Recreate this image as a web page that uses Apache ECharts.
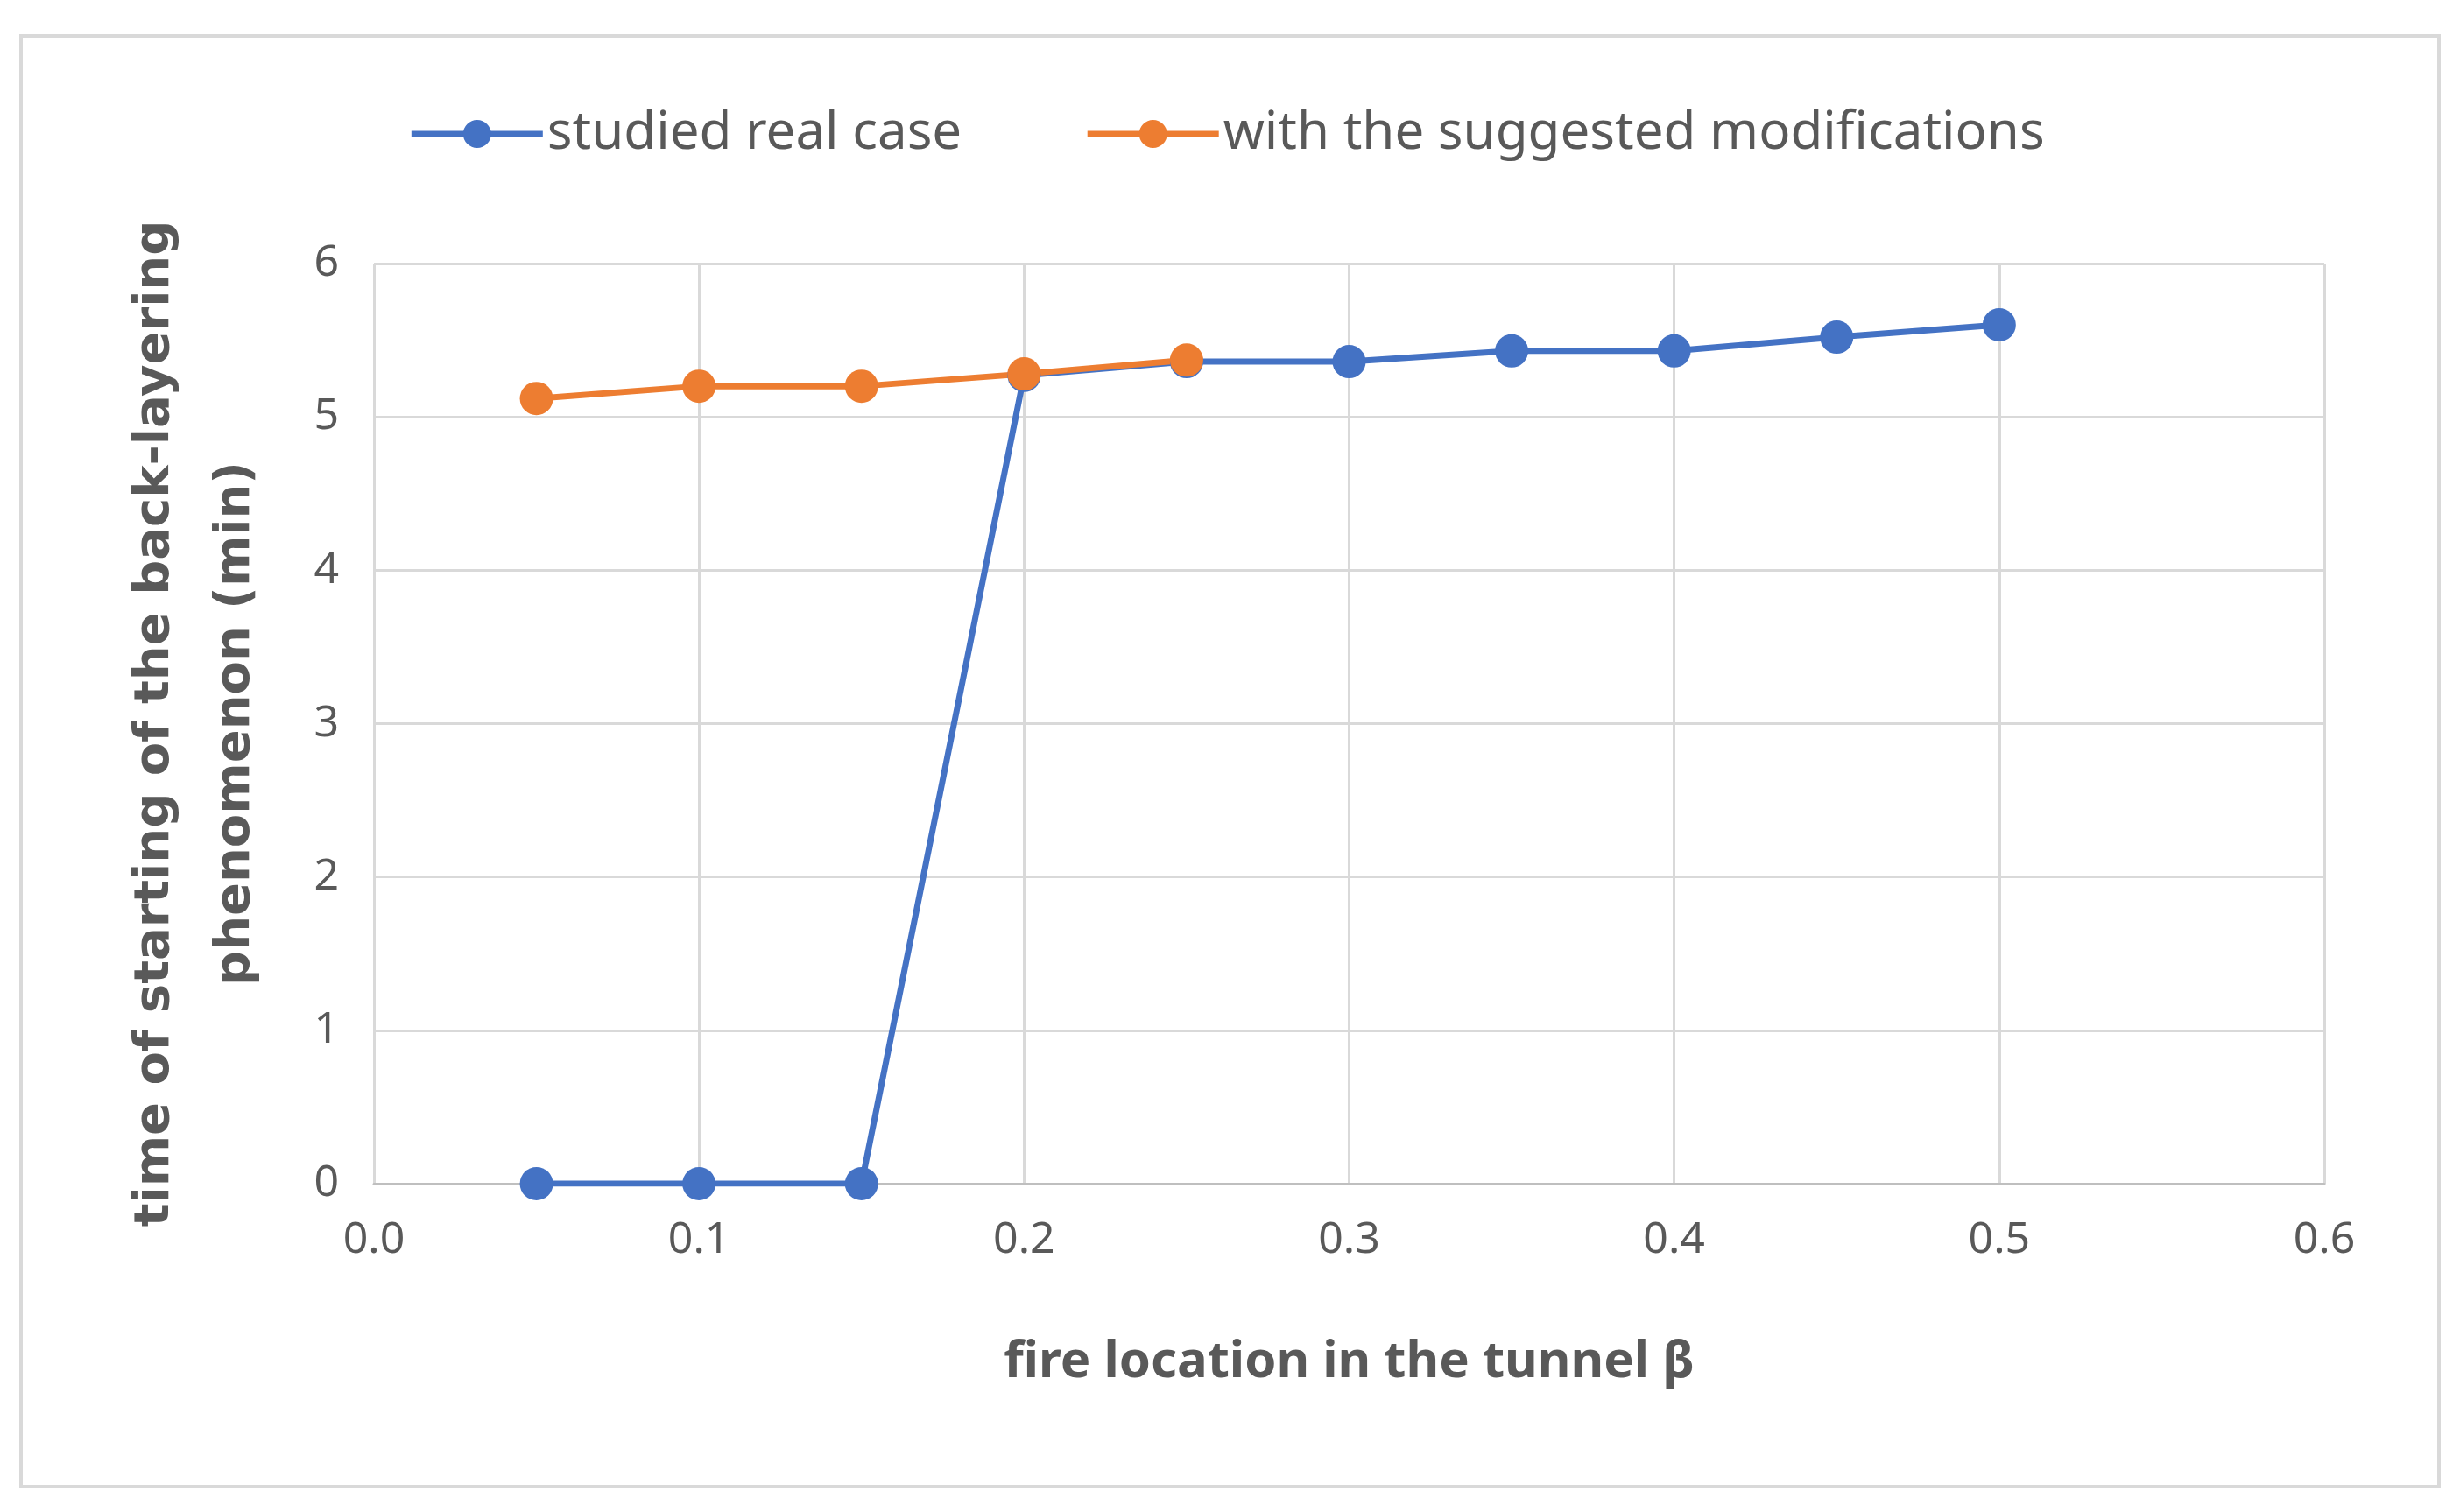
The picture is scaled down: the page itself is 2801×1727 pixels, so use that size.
<!DOCTYPE html>
<html>
<head>
<meta charset="utf-8">
<script src="https://cdn.jsdelivr.net/npm/echarts@6/dist/echarts.min.js"></script>
<style>
  html, body { margin: 0; padding: 0; background: #fff; }
  #frame { position: absolute; left: 22px; top: 39px; width: 2757px; height: 1653px; border: 4px solid #d9d9d9; }
  #chart { position: absolute; left: 0; top: 0; width: 2801px; height: 1727px; }
</style>
</head>
<body>
<div id="frame"></div>
<div id="chart"></div>
<script>
// fire location beta
const xRealCase = [0.05, 0.1, 0.15, 0.2, 0.25, 0.3, 0.35, 0.4, 0.45, 0.5];
const yRealCase = [0, 0, 0, 5.27, 5.36, 5.36, 5.43, 5.43, 5.52, 5.6];
const xModified = [0.05, 0.1, 0.15, 0.2, 0.25];
const yModified = [5.12, 5.2, 5.2, 5.28, 5.37];

const pairs = (xs, ys) => xs.map((x, i) => [x, ys[i]]);

const chart = echarts.init(document.getElementById('chart'));
const font = 'Noto Sans';

chart.setOption({
  animation: false,
  legend: {
    top: 118,
    left: 'center',
    itemWidth: 150,
    itemHeight: 40,
    itemGap: 140,
    lineStyle: { width: 7 },
    textStyle: { fontFamily: font, fontSize: 60, color: '#595959' },
    data: ['studied real case', 'with the suggested modifications']
  },
  grid: { left: 427, right: 147, top: 301, bottom: 375 },
  xAxis: {
    type: 'value', min: 0, max: 0.6, interval: 0.1,
    name: 'fire location in the tunnel β',
    nameLocation: 'middle', nameGap: 175,
    nameTextStyle: { fontFamily: font, fontSize: 58, fontWeight: 'bold', color: '#595959' },
    axisLine: { show: true, lineStyle: { color: '#bfbfbf', width: 3 } },
    axisTick: { show: false },
    axisLabel: { fontFamily: font, fontSize: 50, color: '#595959', margin: 40, formatter: v => v.toFixed(1) },
    splitLine: { lineStyle: { color: '#d9d9d9', width: 3 } }
  },
  yAxis: {
    type: 'value', min: 0, max: 6, interval: 1,
    name: 'time of starting of the back-layering\nphenomenon (min)',
    nameLocation: 'middle', nameGap: 112,
    nameTextStyle: { fontFamily: 'DejaVu Sans', fontSize: 56, fontWeight: 'bold', color: '#595959', lineHeight: 92 },
    axisLine: { show: false },
    axisTick: { show: false },
    axisLabel: { fontFamily: font, fontSize: 50, color: '#595959', margin: 40 },
    splitLine: { lineStyle: { color: '#d9d9d9', width: 3 } }
  },
  series: [
    {
      name: 'studied real case', type: 'line',
      data: pairs(xRealCase, yRealCase),
      symbol: 'circle', symbolSize: 38,
      itemStyle: { color: '#4472C4' },
      lineStyle: { color: '#4472C4', width: 7 }
    },
    {
      name: 'with the suggested modifications', type: 'line',
      data: pairs(xModified, yModified),
      symbol: 'circle', symbolSize: 38,
      itemStyle: { color: '#ED7D31' },
      lineStyle: { color: '#ED7D31', width: 7 }
    }
  ]
});
</script>
</body>
</html>
